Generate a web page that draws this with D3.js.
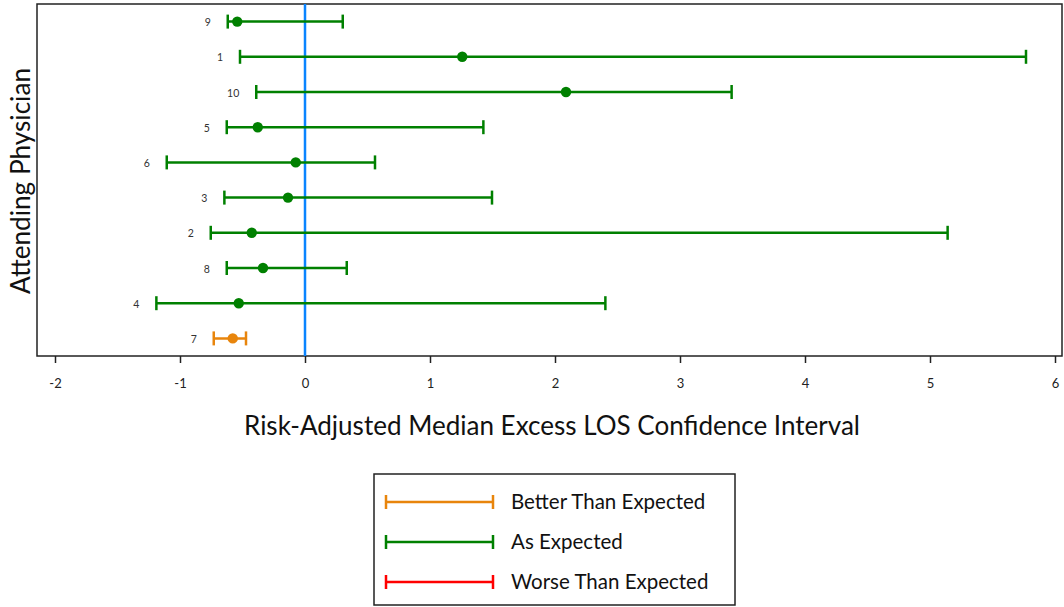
<!doctype html>
<html>
<head>
<meta charset="UTF-8" />
<script src="https://d3js.org/d3.v7.min.js"></script>
<style>
  body { margin: 0; background: #fff; }
  svg { font-family: Lato, "Open Sans", sans-serif; }
</style>
</head>
<body>
<svg id="chart" width="1064" height="607"></svg>
<script>
// physicians from top to bottom
const physicians = ["9", "1", "10", "5", "6", "3", "2", "8", "4", "7"];
const lower  = [-0.618, -0.52, -0.39, -0.626, -1.106, -0.645, -0.754, -0.626, -1.189, -0.730];
const median = [-0.542, 1.258, 2.088, -0.378, -0.074, -0.136, -0.426, -0.336, -0.530, -0.578];
const upper  = [0.302, 5.768, 3.413, 1.427, 0.56, 1.496, 5.141, 0.334, 2.403, -0.472];
const status = ["As Expected", "As Expected", "As Expected", "As Expected", "As Expected",
                "As Expected", "As Expected", "As Expected", "As Expected", "Better Than Expected"];
const xTicks = [-2, -1, 0, 1, 2, 3, 4, 5, 6];
const legendItems = ["Better Than Expected", "As Expected", "Worse Than Expected"];
const legendColors = ["#e8850c", "#008000", "#ff0000"];

const rows = physicians.map((p, i) => ({ p, lo: lower[i], mid: median[i], hi: upper[i], s: status[i] }));

const frame = { left: 37, top: 4, right: 1062, bottom: 356 };
const svg = d3.select("#chart");

const x = d3.scaleLinear().domain([-2, 6]).range([55, 1055]);
const y = d3.scaleBand().domain(physicians).range([frame.top, frame.bottom]);
const color = d3.scaleOrdinal().domain(legendItems).range(legendColors);

// frame
svg.append("rect")
  .attr("x", frame.left).attr("y", frame.top)
  .attr("width", frame.right - frame.left).attr("height", frame.bottom - frame.top)
  .attr("fill", "none").attr("stroke", "#222").attr("stroke-width", 1.5);

// x axis
const xAxis = svg.append("g")
  .attr("transform", "translate(0," + frame.bottom + ")")
  .call(d3.axisBottom(x).tickValues(xTicks).tickSize(7).tickPadding(16).tickFormat(d => String(d)));
xAxis.select(".domain").remove();
xAxis.selectAll("line").attr("stroke", "#222").attr("stroke-width", 1.5);
xAxis.selectAll("text").attr("font-size", 13).attr("fill", "#222")
  .attr("font-family", "Lato, sans-serif");

// zero line
svg.append("line")
  .attr("x1", x(0)).attr("x2", x(0))
  .attr("y1", frame.top).attr("y2", frame.bottom)
  .attr("stroke", "#0a84ff").attr("stroke-width", 2.5);

const cy = d => y(d.p) + y.bandwidth() / 2;

const bars = svg.append("g").selectAll("g").data(rows).join("g")
  .attr("stroke", d => color(d.s)).attr("fill", d => color(d.s));

bars.append("line")
  .attr("x1", d => x(d.lo)).attr("x2", d => x(d.hi))
  .attr("y1", cy).attr("y2", cy).attr("stroke-width", 2.5);
bars.append("line")
  .attr("x1", d => x(d.lo)).attr("x2", d => x(d.lo))
  .attr("y1", d => cy(d) - 7).attr("y2", d => cy(d) + 7).attr("stroke-width", 2.5);
bars.append("line")
  .attr("x1", d => x(d.hi)).attr("x2", d => x(d.hi))
  .attr("y1", d => cy(d) - 7).attr("y2", d => cy(d) + 7).attr("stroke-width", 2.5);
bars.append("circle")
  .attr("cx", d => x(d.mid)).attr("cy", cy).attr("r", 5.2).attr("stroke", "none");

// physician labels beside each interval
svg.append("g").selectAll("text").data(rows).join("text")
  .attr("x", d => x(d.lo) - 17).attr("y", d => cy(d) + 1).attr("dy", "0.35em")
  .attr("text-anchor", "end").attr("font-size", 10.5).attr("fill", "#333")
  .text(d => d.p);

// axis titles
svg.append("text")
  .attr("x", 552).attr("y", 435).attr("text-anchor", "middle")
  .attr("font-size", 26).attr("fill", "#111")
  .attr("textLength", 616).attr("lengthAdjust", "spacingAndGlyphs")
  .text("Risk-Adjusted Median Excess LOS Confidence Interval");

svg.append("text")
  .attr("transform", "translate(30,181) rotate(-90)")
  .attr("text-anchor", "middle").attr("font-size", 26).attr("fill", "#111")
  .attr("textLength", 226).attr("lengthAdjust", "spacingAndGlyphs")
  .text("Attending Physician");

// legend
const legend = svg.append("g");
legend.append("rect")
  .attr("x", 374).attr("y", 474).attr("width", 361).attr("height", 131)
  .attr("fill", "#fff").attr("stroke", "#222").attr("stroke-width", 1.5);

const ly = d3.scalePoint().domain(legendItems).range([502, 582]);
const item = legend.selectAll("g").data(legendItems).join("g")
  .attr("stroke", d => color(d));
item.append("line").attr("x1", 386).attr("x2", 493)
  .attr("y1", d => ly(d)).attr("y2", d => ly(d)).attr("stroke-width", 2.5);
item.append("line").attr("x1", 386).attr("x2", 386)
  .attr("y1", d => ly(d) - 7).attr("y2", d => ly(d) + 7).attr("stroke-width", 2.5);
item.append("line").attr("x1", 493).attr("x2", 493)
  .attr("y1", d => ly(d) - 7).attr("y2", d => ly(d) + 7).attr("stroke-width", 2.5);
item.append("text")
  .attr("x", 511).attr("y", d => ly(d)).attr("dy", "0.35em")
  .attr("stroke", "none").attr("fill", "#111").attr("font-size", 20.5)
  .text(d => d);
</script>
</body>
</html>
